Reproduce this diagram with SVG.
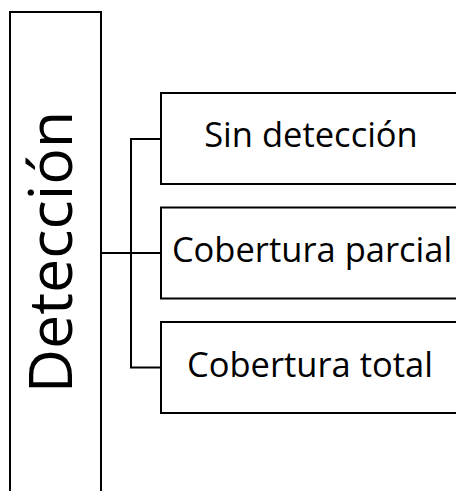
<svg xmlns="http://www.w3.org/2000/svg" width="456" height="491" viewBox="0 0 456 491">
  <style>
    .box { fill: #ffffff; stroke: #000000; stroke-width: 2; }
    .wire { fill: none; stroke: #000000; stroke-width: 2; }
    .lbl { font-family: "Open Sans", "Noto Sans", "Liberation Sans", sans-serif; fill: #000000; text-anchor: middle; }
  </style>
  <rect width="456" height="491" fill="#ffffff"/>

  <g id="connectors">
    <path class="wire" d="M101,253 H131"/>
    <path class="wire" d="M161,139 H131 V367.5 H161"/>
    <path class="wire" d="M131,253 H161"/>
  </g>

  <g id="deteccion">
    <rect class="box" x="10" y="12" width="91" height="490"/>
    <text class="lbl" font-size="61" transform="translate(72,252) rotate(-90)">Detección</text>
  </g>

  <g id="sin-deteccion">
    <rect class="box" x="161" y="93" width="310" height="91"/>
    <text class="lbl" font-size="34.5" x="311" y="147">Sin detección</text>
  </g>

  <g id="cobertura-parcial">
    <rect class="box" x="161" y="207.5" width="310" height="91"/>
    <text class="lbl" font-size="34.5" x="312" y="262">Cobertura parcial</text>
  </g>

  <g id="cobertura-total">
    <rect class="box" x="161" y="322" width="310" height="91"/>
    <text class="lbl" font-size="34.5" x="310" y="377">Cobertura total</text>
  </g>
</svg>
